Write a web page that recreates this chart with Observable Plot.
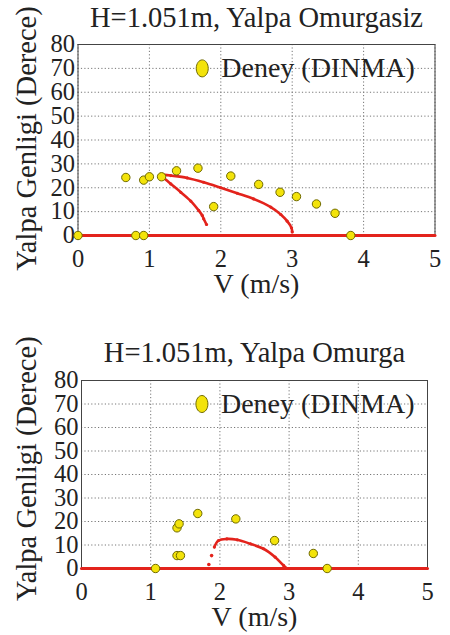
<!DOCTYPE html>
<html><head><meta charset="utf-8">
<script src="https://cdn.jsdelivr.net/npm/d3@7"></script>
<script src="https://cdn.jsdelivr.net/npm/@observablehq/plot@0.6"></script>
<style>
body{margin:0;background:#fff;width:450px;height:635px;overflow:hidden;position:relative}
.panel{position:absolute;left:0}
</style></head><body>
<div id="top" class="panel" style="top:0"></div>
<div id="bottom" class="panel" style="top:335px"></div>
<script>
// ---- Data ----
const xTicks = [0, 1, 2, 3, 4, 5];
const yTicks = [0, 10, 20, 30, 40, 50, 60, 70, 80];
const legendLabel = "Deney (DINMA)";
const xLabel = "V (m/s)";
const yLabel = "Yalpa Genligi (Derece)";

// Top panel: Yalpa Omurgasiz
const topTitle = "H=1.051m, Yalpa Omurgasiz";
const topExpV   = [0, 0.81, 0.92, 0.67, 0.92, 1.0, 1.17, 1.38, 1.68, 1.9, 2.14, 2.53, 2.83, 3.06, 3.34, 3.6, 3.82];
const topExpDeg = [0, 0, 0, 24.3, 23.2, 24.6, 24.6, 27.1, 28.2, 12.1, 24.9, 21.4, 18.1, 16.3, 13.2, 9.3, 0];
const topUpperV   = [1.18, 1.3, 1.53, 1.76, 2.0, 2.23, 2.46, 2.7, 2.84, 2.93, 2.99, 3.0];
const topUpperDeg = [25.5, 25.1, 24.1, 22.3, 20.0, 17.7, 15.3, 11.9, 8.8, 6.0, 3.2, 1.5];
const topLowerV   = [1.18, 1.3, 1.44, 1.58, 1.69, 1.74, 1.76, 1.8];
const topLowerDeg = [24.6, 21.6, 18.1, 14.4, 10.5, 8.4, 7.0, 4.6];
const topZeroV = [0, 5];

// Bottom panel: Yalpa Omurga
const bottomTitle = "H=1.051m, Yalpa Omurga";
const bottomExpV   = [1.07, 1.38, 1.43, 1.38, 1.41, 1.68, 2.23, 2.79, 3.35, 3.55];
const bottomExpDeg = [0, 5.5, 5.5, 17.3, 19.0, 23.4, 21.1, 11.9, 6.4, 0];
const bottomCurveV   = [1.92, 1.98, 2.1, 2.25, 2.44, 2.63, 2.8, 2.92, 2.97];
const bottomCurveDeg = [9.1, 11.9, 12.6, 12.2, 10.5, 8.4, 4.8, 1.3, 0];
const bottomIsoV   = [1.84, 1.88];
const bottomIsoDeg = [1.7, 5.5];
const bottomZeroV = [0, 5];

// ---- Drawing ----
const FONT = "'Liberation Serif', 'Times New Roman', Times, serif";
const RED = "#e3231c";
const YELLOW = "#f3e30a";
const OLIVE = "#6f6a00";
const INK = "#222";
const zip = (a, b) => a.map((v, i) => ({v, d: b[i]}));
const ellipse = {draw(ctx) {
  const rx = 6, ry = 8.5, k = 0.5523;
  ctx.moveTo(rx, 0);
  ctx.bezierCurveTo(rx, k * ry, k * rx, ry, 0, ry);
  ctx.bezierCurveTo(-k * rx, ry, -rx, k * ry, -rx, 0);
  ctx.bezierCurveTo(-rx, -k * ry, -k * rx, -ry, 0, -ry);
  ctx.bezierCurveTo(k * rx, -ry, rx, -k * ry, rx, 0);
  ctx.closePath();
}};

function panel(el, o) {
  const curveMarks = o.curves.map(c => Plot.line(c, {x: "v", y: "d", stroke: RED, strokeWidth: 2.6, curve: "catmull-rom"}));
  const curveDots = o.curves.map(c => Plot.dot(c, {x: "v", y: "d", r: 1.6, fill: RED}));
  const chart = Plot.plot({
    width: 450, height: 300,
    marginLeft: o.ml, marginRight: o.mr, marginTop: o.mt, marginBottom: o.mb,
    x: {domain: [0, 5]},
    y: {domain: [0, 80]},
    style: {color: INK, background: "transparent", overflow: "visible"},
    marks: [
      Plot.gridX(xTicks, {stroke: "#777", strokeOpacity: 1, strokeDasharray: "1.2,2.2"}),
      Plot.gridY(yTicks, {stroke: "#777", strokeOpacity: 1, strokeDasharray: "1.2,2.2"}),
      Plot.frame({stroke: "#444", strokeWidth: 1}),
      Plot.axisX(xTicks, {tickSize: 0, tickPadding: 14, label: null, fontSize: 24.5, tickFormat: d => String(d)}),
      Plot.axisY(yTicks, {tickSize: 0, tickPadding: 3, label: null, fontSize: 24.5, tickFormat: d => String(d)}),
      Plot.line(o.zero.map(v => ({v, d: 0})), {x: "v", y: "d", stroke: RED, strokeWidth: 3}),
      ...curveMarks,
      ...curveDots,
      ...(o.iso ? [Plot.dot(o.iso, {x: "v", y: "d", r: 1.8, fill: RED})] : []),
      Plot.dot(o.exp, {x: "v", y: "d", r: 4.2, fill: YELLOW, stroke: OLIVE, strokeWidth: 1}),
      Plot.dot([{v: 1.74, d: 70}], {x: "v", y: "d", symbol: ellipse, fill: YELLOW, stroke: OLIVE, strokeWidth: 1}),
      Plot.text([legendLabel], {x: () => 1.74, y: () => 70, dx: 19, textAnchor: "start", lineAnchor: "middle", fontSize: 28, fill: INK}),
      Plot.text([o.title], {frameAnchor: "top", dy: o.titleDy, lineAnchor: "middle", fontSize: 28.5, fill: INK}),
      Plot.text([xLabel], {frameAnchor: "bottom", dy: 49, lineAnchor: "middle", fontSize: 28, fill: INK}),
      Plot.text([yLabel], {x: () => o.ylX, y: () => o.ylY, rotate: -90, textAnchor: "middle", lineAnchor: "middle", fontSize: 28.5, fill: INK})
    ]
  });
  chart.style.fontFamily = FONT;
  d3.select(chart).selectAll("g, text").style("font-family", FONT);
  document.getElementById(el).appendChild(chart);
}

panel("top", {
  ml: 77.5, mr: 15.5, mt: 44, mb: 65, titleDy: -27, ylX: -0.72, ylY: 40.6,
  title: topTitle,
  exp: zip(topExpV, topExpDeg),
  curves: [zip(topUpperV, topUpperDeg), zip(topLowerV, topLowerDeg)],
  zero: topZeroV
});
panel("bottom", {
  ml: 81, mr: 23, mt: 45, mb: 67, titleDy: -28, ylX: -0.795, ylY: 42.5,
  title: bottomTitle,
  exp: zip(bottomExpV, bottomExpDeg),
  curves: [zip(bottomCurveV, bottomCurveDeg)],
  iso: zip(bottomIsoV, bottomIsoDeg),
  zero: bottomZeroV
});
</script>
</body></html>
